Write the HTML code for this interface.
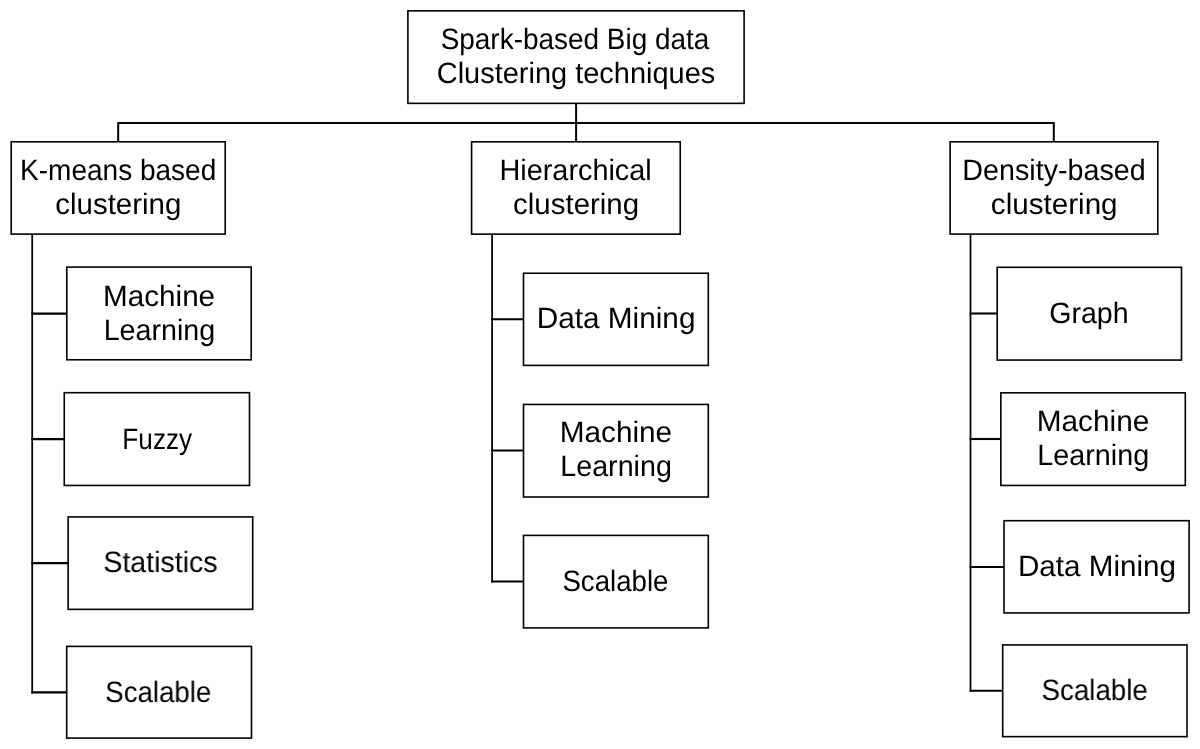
<!DOCTYPE html>
<html lang="en">
<head>
<meta charset="utf-8">
<title>Spark-based Big data Clustering techniques</title>
<style>
html,body{margin:0;padding:0;background:#fff}
body{width:1200px;height:749px;overflow:hidden;position:relative;font-family:"Liberation Sans",sans-serif;color:#000}
.diagram{position:absolute;left:0;top:0;width:1200px;height:749px;overflow:hidden;will-change:transform}
.wires{position:absolute;left:0;top:0}
.node{position:absolute;margin:0;padding:0}
.node span{position:absolute;left:0;white-space:nowrap;font-size:29.5px;line-height:1;transform-origin:0 0;text-rendering:geometricPrecision}
</style>
</head>
<body>
<div class="diagram">
<svg class="wires" width="1200" height="749" viewBox="0 0 1200 749">
<g fill="none" stroke="#000" stroke-width="2" stroke-linejoin="miter" stroke-linecap="butt">
<polyline points="118.2,141.8 118.2,122.9 1053.8,122.9 1053.8,141.8"/>
<line x1="576.1" y1="103.35" x2="576.1" y2="141.8"/>
</g>
<g fill="none" stroke="#000" stroke-width="1.75">
<line x1="32.2" y1="234.1" x2="32.2" y2="693.45"/>
<line x1="492.1" y1="234.15" x2="492.1" y2="582.55"/>
<line x1="970.5" y1="234.1" x2="970.5" y2="691.8"/>
</g>
<g fill="none" stroke="#000" stroke-width="2.1">
<line x1="31.33" y1="313.6" x2="66.8" y2="313.6"/>
<line x1="31.33" y1="439.1" x2="64.25" y2="439.1"/>
<line x1="31.33" y1="563.1" x2="68.15" y2="563.1"/>
<line x1="31.33" y1="692.4" x2="66.7" y2="692.4"/>
<line x1="491.23" y1="319.3" x2="523.5" y2="319.3"/>
<line x1="491.23" y1="450.5" x2="523.5" y2="450.5"/>
<line x1="491.23" y1="581.5" x2="523.5" y2="581.5"/>
<line x1="969.62" y1="313.5" x2="997.2" y2="313.5"/>
<line x1="969.62" y1="439" x2="1000.85" y2="439"/>
<line x1="969.62" y1="567" x2="1004" y2="567"/>
<line x1="969.62" y1="690.75" x2="1002.7" y2="690.75"/>
</g>
<g fill="#fff" stroke="#000" stroke-width="1.6">
<rect x="407.9" y="10.85" width="336.2" height="92.5"/>
<rect x="11.2" y="141.8" width="214" height="92.3"/>
<rect x="471.6" y="141.8" width="208.6" height="92.35"/>
<rect x="950.1" y="141.8" width="207.7" height="92.3"/>
<rect x="66.8" y="267.1" width="184.4" height="92.7"/>
<rect x="64.25" y="392.7" width="185.25" height="92.75"/>
<rect x="68.15" y="516.9" width="184.55" height="92.45"/>
<rect x="66.7" y="646.4" width="184.8" height="91.7"/>
<rect x="523.5" y="273.25" width="184.8" height="92.15"/>
<rect x="523.5" y="404.45" width="184.8" height="92.55"/>
<rect x="523.5" y="535.4" width="184.8" height="92.5"/>
<rect x="997.2" y="267.3" width="184.3" height="92.75"/>
<rect x="1000.85" y="392.85" width="184.45" height="92.6"/>
<rect x="1004" y="520.7" width="185.1" height="92.2"/>
<rect x="1002.7" y="644.9" width="184.3" height="91.75"/>
</g>
</svg>
<div class="node" id="root" style="left:408px;top:11px;width:336px;height:92px"><span style="top:14px;transform:translateX(32.65px) scaleX(0.9471)">Spark-based Big data</span><span style="top:48px;transform:translateX(28.77px) scaleX(0.9816)">Clustering techniques</span></div>
<div class="node" id="kmeans" style="left:11px;top:142px;width:214px;height:92px"><span style="top:14px;transform:translateX(9.12px) scaleX(0.9493)">K-means based</span><span style="top:48px;transform:translateX(44.22px) scaleX(0.9991)">clustering</span></div>
<div class="node" id="hier" style="left:472px;top:142px;width:209px;height:92px"><span style="top:14px;transform:translateX(27.5px) scaleX(0.9773)">Hierarchical</span><span style="top:48px;transform:translateX(41.11px) scaleX(0.998)">clustering</span></div>
<div class="node" id="density" style="left:950px;top:142px;width:208px;height:92px"><span style="top:14px;transform:translateX(12.37px) scaleX(0.972)">Density-based</span><span style="top:48px;transform:translateX(40.87px) scaleX(1.0037)">clustering</span></div>
<div class="node" id="k1" style="left:67px;top:267px;width:184px;height:93px"><span style="top:15px;transform:translateX(36.05px) scaleX(1.005)">Machine</span><span style="top:49px;transform:translateX(36.63px) scaleX(0.9722)">Learning</span></div>
<div class="node" id="k2" style="left:64px;top:393px;width:185px;height:93px"><span style="top:32px;transform:translateX(58.36px) scaleX(0.8866)">Fuzzy</span></div>
<div class="node" id="k3" style="left:68px;top:517px;width:185px;height:92px"><span style="top:31px;transform:translateX(35.33px) scaleX(0.9679)">Statistics</span></div>
<div class="node" id="k4" style="left:67px;top:646px;width:185px;height:92px"><span style="top:32px;transform:translateX(38.2px) scaleX(0.9371)">Scalable</span></div>
<div class="node" id="h1" style="left:524px;top:273px;width:185px;height:92px"><span style="top:31px;transform:translateX(12.77px) scaleX(1.008)">Data Mining</span></div>
<div class="node" id="h2" style="left:524px;top:404px;width:185px;height:93px"><span style="top:14px;transform:translateX(35.71px) scaleX(1.0084)">Machine</span><span style="top:48px;transform:translateX(36.26px) scaleX(0.9718)">Learning</span></div>
<div class="node" id="h3" style="left:524px;top:535px;width:185px;height:92px"><span style="top:32px;transform:translateX(38.45px) scaleX(0.9362)">Scalable</span></div>
<div class="node" id="d1" style="left:997px;top:267px;width:184px;height:93px"><span style="top:32px;transform:translateX(52.29px) scaleX(0.9667)">Graph</span></div>
<div class="node" id="d2" style="left:1001px;top:393px;width:184px;height:93px"><span style="top:14px;transform:translateX(35.7px) scaleX(1.0095)">Machine</span><span style="top:48px;transform:translateX(36.34px) scaleX(0.9742)">Learning</span></div>
<div class="node" id="d3" style="left:1004px;top:521px;width:185px;height:92px"><span style="top:31px;transform:translateX(13.95px) scaleX(1.0038)">Data Mining</span></div>
<div class="node" id="d4" style="left:1003px;top:645px;width:184px;height:92px"><span style="top:31px;transform:translateX(38.51px) scaleX(0.9388)">Scalable</span></div>
</div>
</body>
</html>
